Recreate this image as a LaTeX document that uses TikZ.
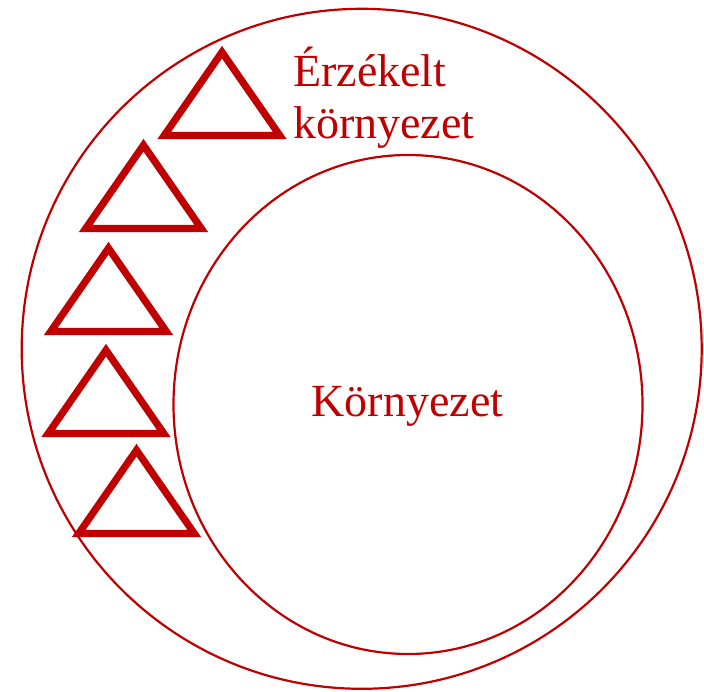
\documentclass[tikz,border=0pt]{standalone}
\usepackage{fontspec}
\setmainfont{Liberation Serif}
\definecolor{rot}{HTML}{C00000}
\begin{document}
\begin{tikzpicture}[x=1pt, y=-1pt, every node/.style={font=\fontsize{46}{52}\selectfont, text=rot, inner sep=0pt},
   ring/.style={draw=rot, line width=2.2pt},
   warn/.pic={\draw[rot, line width=7.2pt, line join=miter] (-57.8,0) -- (57.8,0) -- (0,-83.3) -- cycle;}]
\useasboundingbox (0,0) rectangle (704,692);
\coordinate (outer) at (361.7,348.8);
\coordinate (inner) at (408,404.5);
\draw[ring] (outer) circle (340);
\draw[ring] (inner) ellipse (234.5 and 249.5);
\foreach \x/\y in {222/135.5, 143.5/228.5, 108.5/331.5, 106/433.5, 136.5/533.5}
  \pic at (\x,\y) {warn};
\node[anchor=base] (env) at (407.5,417) {Környezet};
\node[anchor=base west] (sensed1) at (293,87) {Érzékelt};
\node[anchor=base west] (sensed2) at (293,139) {környezet};
\end{tikzpicture}
\end{document}
